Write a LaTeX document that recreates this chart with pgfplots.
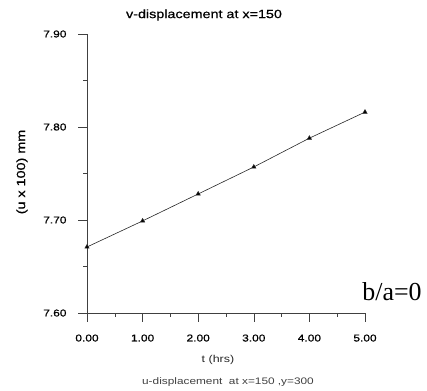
\documentclass[border=0pt]{standalone}
\usepackage{fontspec}
\setmainfont[FakeStretch=1.25]{Liberation Sans}
\newfontfamily\boldishfont[FakeStretch=1.2, FakeBold=0.6]{Liberation Sans}
\newfontfamily\timesfont{Liberation Serif}
\usepackage{pgfplots}
\pgfplotsset{compat=1.18}

\begin{document}
\begin{tikzpicture}[x=1bp,y=1bp]
\useasboundingbox (0,0) rectangle (427,391);
\begin{axis}[
  at={(87bp,78bp)}, anchor=south west,
  scale only axis, width=278bp, height=279bp,
  xmin=0, xmax=5, ymin=7.6, ymax=7.9,
  clip=false,
  axis lines=left,
  axis line style={-, black!75, line width=0.5pt},
  xtick={0,1,2,3,4,5}, ytick={7.6,7.7,7.8,7.9},
  minor x tick num=1, minor y tick num=1,
  tick align=outside, major tick length=9bp, minor tick length=4bp,
  tick style={black!75, line width=0.5pt},
  tick label style={font=\boldishfont\fontsize{10}{12}\selectfont, text=black},
  /pgf/number format/assume math mode=true,
  xticklabel style={yshift=-9bp, /pgf/number format/fixed, /pgf/number format/fixed zerofill, /pgf/number format/precision=2},
  yticklabel style={xshift=-8bp, /pgf/number format/fixed, /pgf/number format/fixed zerofill, /pgf/number format/precision=2},
]
\addplot[black!85, line width=0.6pt, mark=triangle*, mark size=2.4pt,
  mark options={solid, fill=black}] coordinates {
  (0,7.671) (1,7.699) (2,7.728) (3,7.757) (4,7.788) (5,7.816)
};
\end{axis}
\node[font=\boldishfont\fontsize{12}{14}\selectfont] at (204,376) {v-displacement at x=150};
\node[rotate=90, font=\boldishfont\fontsize{12}{14}\selectfont] at (22,219) {(u x 100) mm};
\node[font=\fontsize{10}{12}\selectfont, text=black!85] at (218,31) {t (hrs)};
\node[font=\fontsize{9.5}{11}\selectfont, text=black!75] at (228,9) {u-displacement\ \ at x=150 ,y=300};
\node[font=\timesfont\fontsize{26}{30}\selectfont] at (392,99) {b/a=0};
\end{tikzpicture}
\end{document}
